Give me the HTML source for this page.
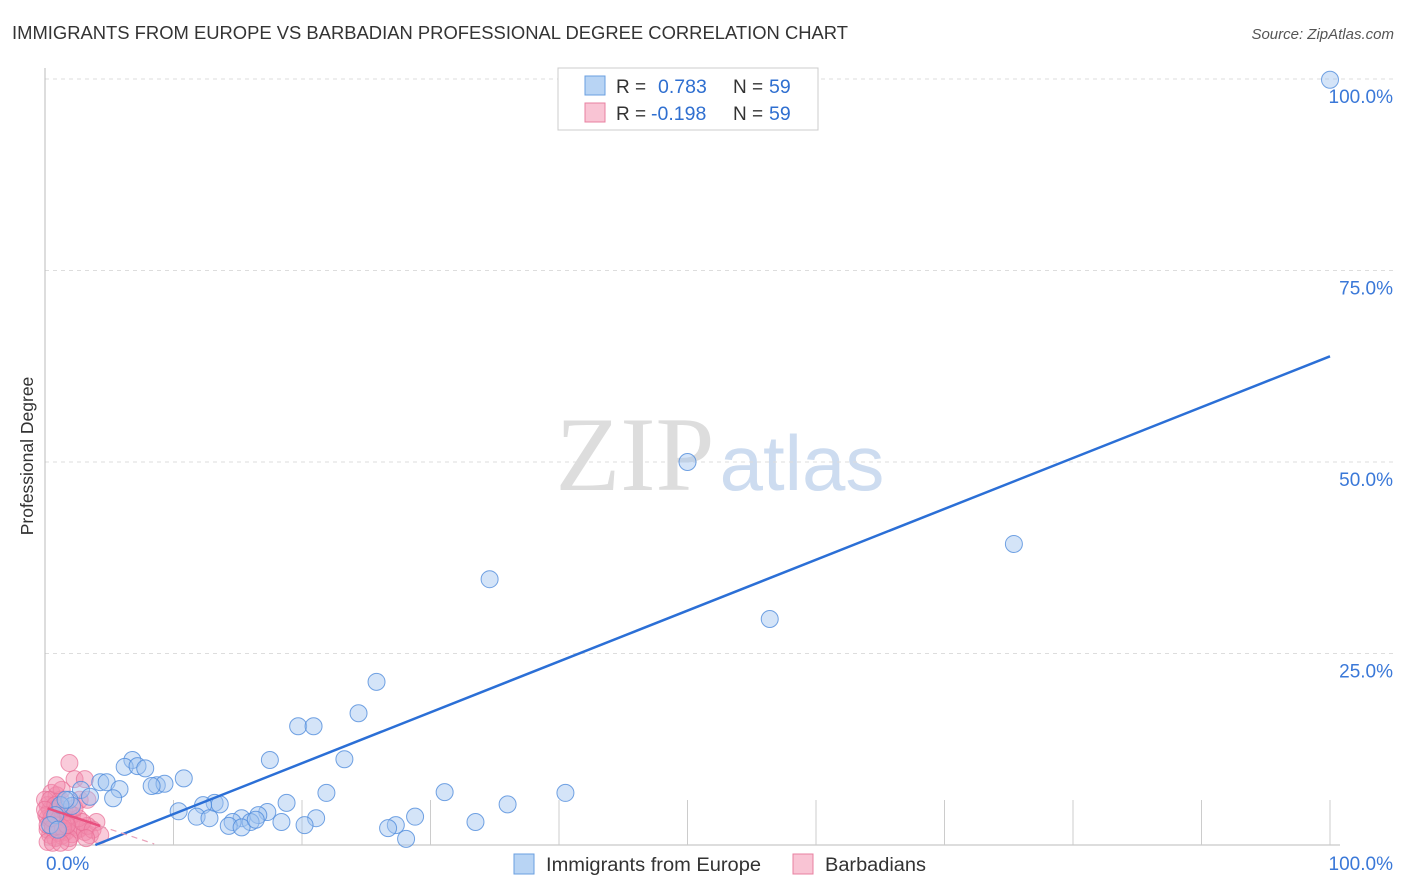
<!DOCTYPE html>
<html><head><meta charset="utf-8"><style>
body{margin:0;background:#fff;font-family:"Liberation Sans",sans-serif}
</style></head><body>
<svg id="c" width="1406" height="892" xmlns="http://www.w3.org/2000/svg" style="display:block;font-family:'Liberation Sans',sans-serif">
<text x="12" y="39" font-size="18" fill="#333" textLength="836" lengthAdjust="spacingAndGlyphs">IMMIGRANTS FROM EUROPE VS BARBADIAN PROFESSIONAL DEGREE CORRELATION CHART</text>
<text x="1394" y="39" font-size="15" fill="#555" text-anchor="end" font-style="italic">Source: ZipAtlas.com</text>
<text transform="translate(33,456) rotate(-90)" font-size="17.5" fill="#333" text-anchor="middle">Professional Degree</text>
<g><text x="635" y="490" font-family="'Liberation Serif',serif" font-size="106" fill="#ddd" text-anchor="middle">ZIP</text><text x="802" y="490" font-size="78" fill="#cddcf0" text-anchor="middle">atlas</text></g>
<g id="grid"></g><g id="axes"></g><g id="pts"></g><g id="trend"></g>
<g>
<rect x="558" y="68" width="260" height="62" fill="#fff" stroke="#ccc"/>
<rect x="585" y="76" width="20" height="19" fill="#b8d4f4" stroke="#6a9fe0"/>
<rect x="585" y="103" width="20" height="19" fill="#f9c4d4" stroke="#e880a0"/>
<text x="616" y="93" font-size="19" fill="#333">R =</text><text x="658" y="93" font-size="19.5" fill="#2f6fd0">0.783</text><text x="733" y="93" font-size="19" fill="#333">N =</text><text x="769" y="93" font-size="19.5" fill="#2f6fd0">59</text>
<text x="616" y="120" font-size="19" fill="#333">R =</text><text x="651" y="120" font-size="19.5" fill="#2f6fd0">-0.198</text><text x="733" y="120" font-size="19" fill="#333">N =</text><text x="769" y="120" font-size="19.5" fill="#2f6fd0">59</text>
</g>
<g>
<rect x="514" y="854" width="20" height="20" fill="#b8d4f4" stroke="#6a9fe0"/>
<text x="546" y="871" font-size="19" fill="#333" textLength="215" lengthAdjust="spacingAndGlyphs">Immigrants from Europe</text>
<rect x="793" y="854" width="20" height="20" fill="#f9c4d4" stroke="#e880a0"/>
<text x="825" y="871" font-size="19" fill="#333" textLength="101" lengthAdjust="spacingAndGlyphs">Barbadians</text>
</g>
</svg>
<script>
const yTicks=[25,50,75,100];
const yTickLabels=["25.0%","50.0%","75.0%","100.0%"];
const xTicks=[10,20,30,40,50,60,70,80,90,100];
const blueX=[100,50.0,75.4,34.6,56.4,25.8,24.4,19.7,20.9,23.3,17.5,6.8,6.2,7.2,7.8,10.8,8.7,9.3,8.3,4.3,4.8,5.8,2.8,3.5,5.3,1.9,2.1,13.2,13.6,12.3,10.4,11.8,12.8,18.8,21.9,31.1,36.0,40.5,17.3,16.6,15.3,16.0,14.6,14.3,15.3,16.4,18.4,21.1,20.2,28.8,27.3,26.7,33.5,28.1,1.2,1.6,0.8,0.4,1.0];
const blueY=[99.9,50.0,39.3,34.7,29.5,21.3,17.2,15.5,15.5,11.2,11.1,11.1,10.2,10.3,10.0,8.7,7.8,8.0,7.7,8.2,8.2,7.3,7.2,6.3,6.1,5.9,5.1,5.5,5.3,5.2,4.4,3.7,3.5,5.5,6.8,6.9,5.3,6.8,4.3,3.9,3.5,3.0,3.0,2.5,2.3,3.3,3.0,3.5,2.6,3.7,2.6,2.2,3.0,0.8,5.2,5.9,3.9,2.6,2.0];
const pinkX=[1.9,2.3,3.1,0.5,0.9,1.2,0.2,0.4,0.8,1.3,1.6,1.9,2.3,2.7,0.2,0.5,0.9,1.2,1.6,2.1,2.6,3.1,3.5,4.0,3.3,0.2,0.4,0.8,1.3,1.9,0,0.4,0.8,1.0,1.5,1.8,2.1,2.6,2.9,0.1,0.2,0.6,1.0,1.4,1.7,0.5,2.3,1.3,0.9,2.7,3.7,4.3,3.2,1.8,0.2,0.6,1.2,0,3.3];
const pinkY=[10.7,8.6,8.6,6.8,6.5,5.9,5.2,4.6,4.3,3.9,3.5,3.3,2.6,2.2,3.5,3.0,2.5,2.0,1.7,1.4,2.0,1.7,1.3,3.0,2.5,2.0,1.3,0.9,1.2,0.9,5.9,5.9,5.2,4.8,4.6,4.3,3.9,3.5,3.0,3.9,2.6,2.2,1.6,2.2,2.6,3.5,4.8,7.2,7.8,5.9,2.0,1.3,0.9,0.4,0.4,0.3,0.3,4.6,5.9];
const blueTrend=[-2.6,0.664];
const pinkTrend=[4.9,-0.56];
const X0=45,X1=1330,Y0=845,Y1=79;
const sx=v=>X0+v/100*(X1-X0), sy=v=>Y0-v/100*(Y0-Y1);
const NS="http://www.w3.org/2000/svg";
function mk(tag,attrs,parent){const e=document.createElementNS(NS,tag);for(const k in attrs)e.setAttribute(k,attrs[k]);document.getElementById(parent).appendChild(e);return e;}
yTicks.forEach((t,i)=>{
 const g=mk('line',{x1:X0,x2:1395,y1:sy(t),y2:sy(t),stroke:'#ddd','stroke-dasharray':'4,4'},'grid');
 
 
 const l=mk('text',{x:1393,y:sy(t)+24,'font-size':19,fill:'#3a78d8','text-anchor':'end'},'grid');
 l.textContent=yTickLabels[i];
 
 
});
const ax=mk('path',{d:`M${X0},68V${Y0}H${X1+10}`,stroke:'#bbb',fill:'none'},'axes');


xTicks.forEach(t=>{
 const k=mk('line',{x1:sx(t),x2:sx(t),y1:Y0,y2:Y0-45,stroke:'#ccc'},'axes');
 
 
});
const xl0=mk('text',{x:46,y:870,'font-size':19,fill:'#3a78d8'},'axes');xl0.textContent='0.0%';


const xl1=mk('text',{x:1393,y:870,'font-size':19,fill:'#3a78d8','text-anchor':'end'},'axes');xl1.textContent='100.0%';


pinkX.forEach((x,i)=>{
 const c=mk('circle',{cx:sx(x),cy:sy(pinkY[i]),r:8.5,fill:'rgba(242,140,172,0.45)',stroke:'rgba(232,110,150,0.7)'},'pts');
 
 
});
blueX.forEach((x,i)=>{
 const c=mk('circle',{cx:sx(x),cy:sy(blueY[i]),r:8.5,fill:'rgba(160,196,240,0.45)',stroke:'rgba(80,140,220,0.8)'},'pts');
 
 
});
const bx0=-blueTrend[0]/blueTrend[1];
const bl=mk('line',{x1:sx(bx0),y1:sy(0),x2:sx(100),y2:sy(blueTrend[0]+blueTrend[1]*100),stroke:'#2b6fd6','stroke-width':2.5},'trend');


const pl=mk('line',{x1:sx(0.2),y1:sy(pinkTrend[0]+pinkTrend[1]*0.2),x2:sx(4.3),y2:sy(pinkTrend[0]+pinkTrend[1]*4.3),stroke:'#e8507f','stroke-width':2.5},'trend');


const pd=mk('line',{x1:sx(4.3),y1:sy(pinkTrend[0]+pinkTrend[1]*4.3),x2:sx(8.5),y2:sy(pinkTrend[0]+pinkTrend[1]*8.5),stroke:'#e8a0b8','stroke-width':1.2,'stroke-dasharray':'6,5'},'trend');


</script>
</body></html>
